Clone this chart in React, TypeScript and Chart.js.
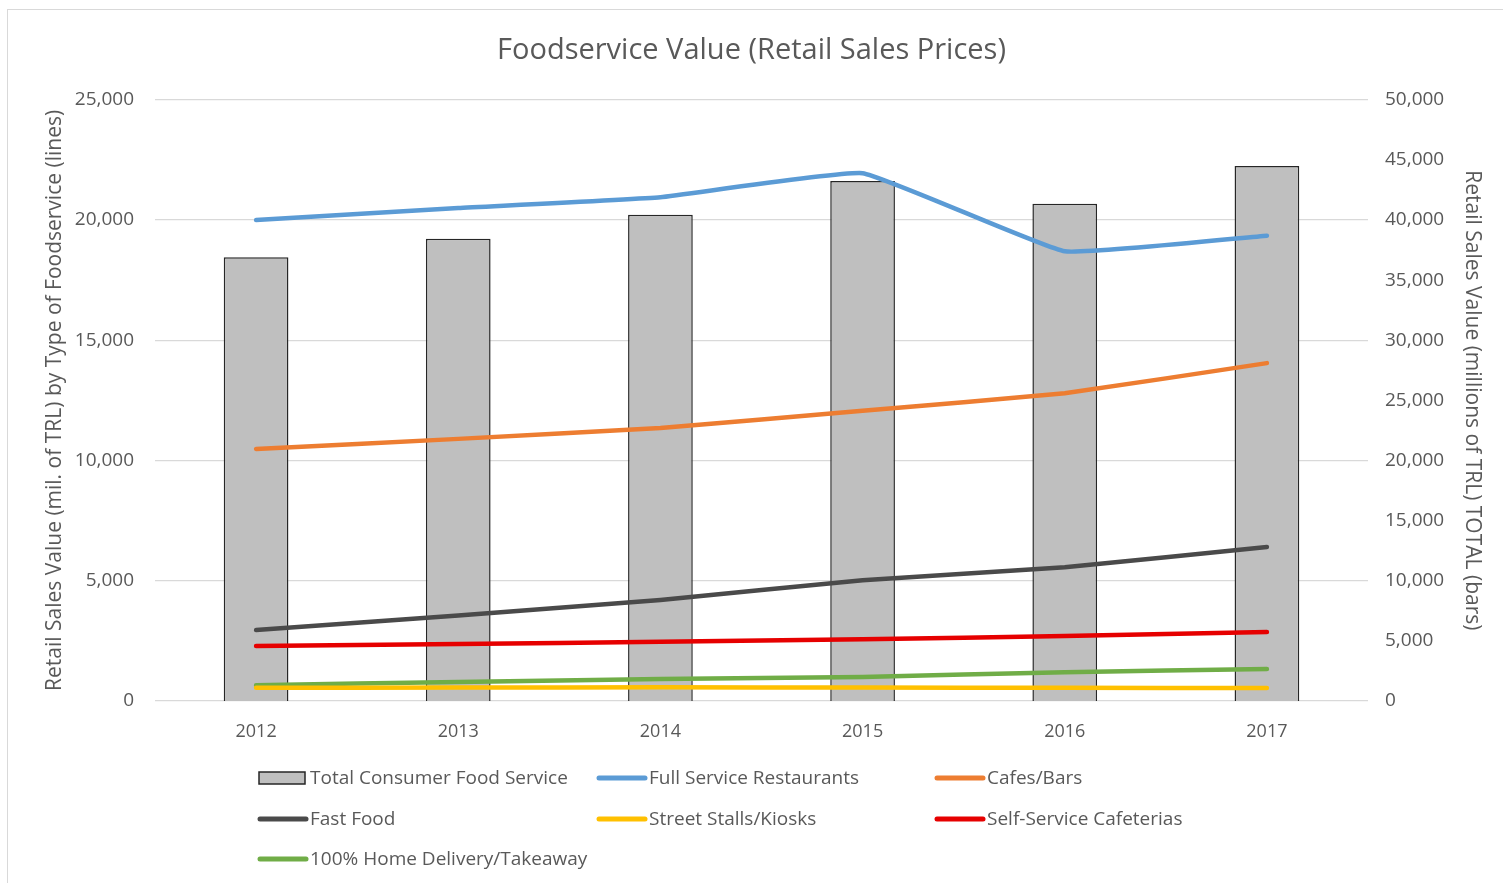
import React, { useEffect, useRef } from "react";
import { Chart, registerables } from "chart.js";

Chart.register(...registerables);

const years = ["2012", "2013", "2014", "2015", "2016", "2017"];
const totalFoodService = [36900, 38450, 40450, 43250, 41350, 44500];
const fullServiceRestaurants = [20000, 20500, 20950, 21950, 18700, 19350];
const cafesBars = [10480, 10900, 11350, 12070, 12800, 14050];
const fastFood = [2950, 3560, 4200, 5020, 5560, 6400];
const streetStalls = [550, 560, 570, 560, 550, 540];
const selfServiceCafeterias = [2290, 2370, 2460, 2570, 2700, 2870];
const homeDelivery = [660, 790, 910, 1000, 1200, 1330];

const leftTicks = [0, 5000, 10000, 15000, 20000, 25000];
const rightTicks = [0, 5000, 10000, 15000, 20000, 25000, 30000, 35000, 40000, 45000, 50000];

const TEXT = "#595959";
const FONT = "'Open Sans', 'Noto Sans', sans-serif";

const legendPlugin = {
  id: "customLegend",
  afterDraw(chart: any) {
    const ctx = chart.ctx;
    const cols = [258, 597, 935];
    const rows = [778, 819, 859];
    ctx.save();
    ctx.font = `19px ${FONT}`;
    ctx.fillStyle = TEXT;
    ctx.textBaseline = "middle";
    chart.data.datasets.forEach((ds: any, i: number) => {
      const x = cols[i % 3];
      const y = rows[Math.floor(i / 3)];
      if (ds.type === "bar") {
        ctx.fillStyle = ds.backgroundColor;
        ctx.fillRect(x + 1, y - 6, 46, 12);
        ctx.strokeStyle = ds.borderColor;
        ctx.lineWidth = 1.5;
        ctx.strokeRect(x + 1, y - 6, 46, 12);
      } else {
        ctx.strokeStyle = ds.borderColor;
        ctx.lineWidth = 5;
        ctx.lineCap = "round";
        ctx.beginPath();
        ctx.moveTo(x + 2, y);
        ctx.lineTo(x + 48, y);
        ctx.stroke();
      }
      ctx.fillStyle = TEXT;
      ctx.textAlign = "left";
      ctx.fillText(ds.label, x + 52, y + 1);
    });
    ctx.restore();
  },
};

function lineDs(label: string, data: number[], color: string) {
  return {
    type: "line" as const,
    label,
    data,
    borderColor: color,
    backgroundColor: color,
    borderWidth: 4.5,
    pointRadius: 0,
    tension: 0.1,
    borderCapStyle: "round" as const,
    yAxisID: "y",
    order: 1,
  };
}

export default function App() {
  const ref = useRef<HTMLCanvasElement>(null);
  useEffect(() => {
    if (!ref.current) return;
    const chart = new Chart(ref.current, {
      type: "bar",
      data: {
        labels: years,
        datasets: [
          {
            type: "bar",
            label: "Total Consumer Food Service",
            data: totalFoodService,
            backgroundColor: "#bfbfbf",
            borderColor: "#262626",
            borderWidth: 1.5,
            barPercentage: 0.32,
            categoryPercentage: 1,
            yAxisID: "y1",
            order: 10,
          } as any,
          lineDs("Full Service Restaurants", fullServiceRestaurants, "#5b9bd5"),
          lineDs("Cafes/Bars", cafesBars, "#ed7d31"),
          lineDs("Fast Food", fastFood, "#4a4a4a"),
          lineDs("Street Stalls/Kiosks", streetStalls, "#ffc000"),
          lineDs("Self-Service Cafeterias", selfServiceCafeterias, "#e60000"),
          lineDs("100% Home Delivery/Takeaway", homeDelivery, "#70ad47"),
        ],
      },
      options: {
        animation: false,
        responsive: false,
        maintainAspectRatio: false,
        layout: { padding: { top: 0, bottom: 0, left: 0, right: 0 } },
        plugins: {
          legend: { display: false },
          tooltip: { enabled: false },
          title: {
            display: true,
            text: "Foodservice Value (Retail Sales Prices)",
            color: TEXT,
            font: { family: FONT, size: 29, weight: "normal" },
            padding: { top: 33, bottom: 32 },
          },
        },
        scales: {
          x: {
            grid: { display: false, drawTicks: false },
            border: { display: false },
            ticks: { color: TEXT, font: { family: FONT, size: 18 }, padding: 20 },
            afterFit: (s: any) => {
              s.height = 182;
            },
          },
          y: {
            position: "left",
            min: 0,
            max: 25000,
            afterBuildTicks: (s: any) => {
              s.ticks = leftTicks.map((v) => ({ value: v }));
            },
            grid: { color: "#d9d9d9", lineWidth: 1.3, drawTicks: false },
            border: { display: false },
            ticks: {
              color: TEXT,
              font: { family: FONT, size: 19 },
              padding: 21,
              callback: (v: any) => Number(v).toLocaleString("en-US"),
            },
            title: {
              display: true,
              text: "Retail Sales Value (mil. of TRL) by Type of Foodservice (lines)",
              color: TEXT,
              font: { family: FONT, size: 21 },
              padding: { top: 42, bottom: 0 },
            },
            afterFit: (s: any) => {
              s.width = 155;
            },
          },
          y1: {
            position: "right",
            min: 0,
            max: 50000,
            afterBuildTicks: (s: any) => {
              s.ticks = rightTicks.map((v) => ({ value: v }));
            },
            grid: { display: false, drawTicks: false },
            border: { display: false },
            ticks: {
              color: TEXT,
              font: { family: FONT, size: 19 },
              padding: 17,
              callback: (v: any) => Number(v).toLocaleString("en-US"),
            },
            title: {
              display: true,
              text: "Retail Sales Value (millions of TRL) TOTAL (bars)",
              color: TEXT,
              font: { family: FONT, size: 21 },
              padding: { top: 18, bottom: 0 },
            },
            afterFit: (s: any) => {
              s.width = 135;
            },
          },
        },
      } as any,
      plugins: [legendPlugin],
    });
    return () => chart.destroy();
  }, []);

  return (
    <div style={{ position: "absolute", left: 0, top: 0, width: 1503, height: 883, overflow: "hidden", background: "#fff" }}>
      <div
        style={{
          position: "absolute",
          left: 7,
          top: 9,
          width: 1520,
          height: 900,
          border: "1px solid #d9d9d9",
          boxSizing: "border-box",
        }}
      />
      <canvas ref={ref} width={1503} height={883} style={{ position: "absolute", left: 0, top: 0, width: 1503, height: 883 }} />
    </div>
  );
}
